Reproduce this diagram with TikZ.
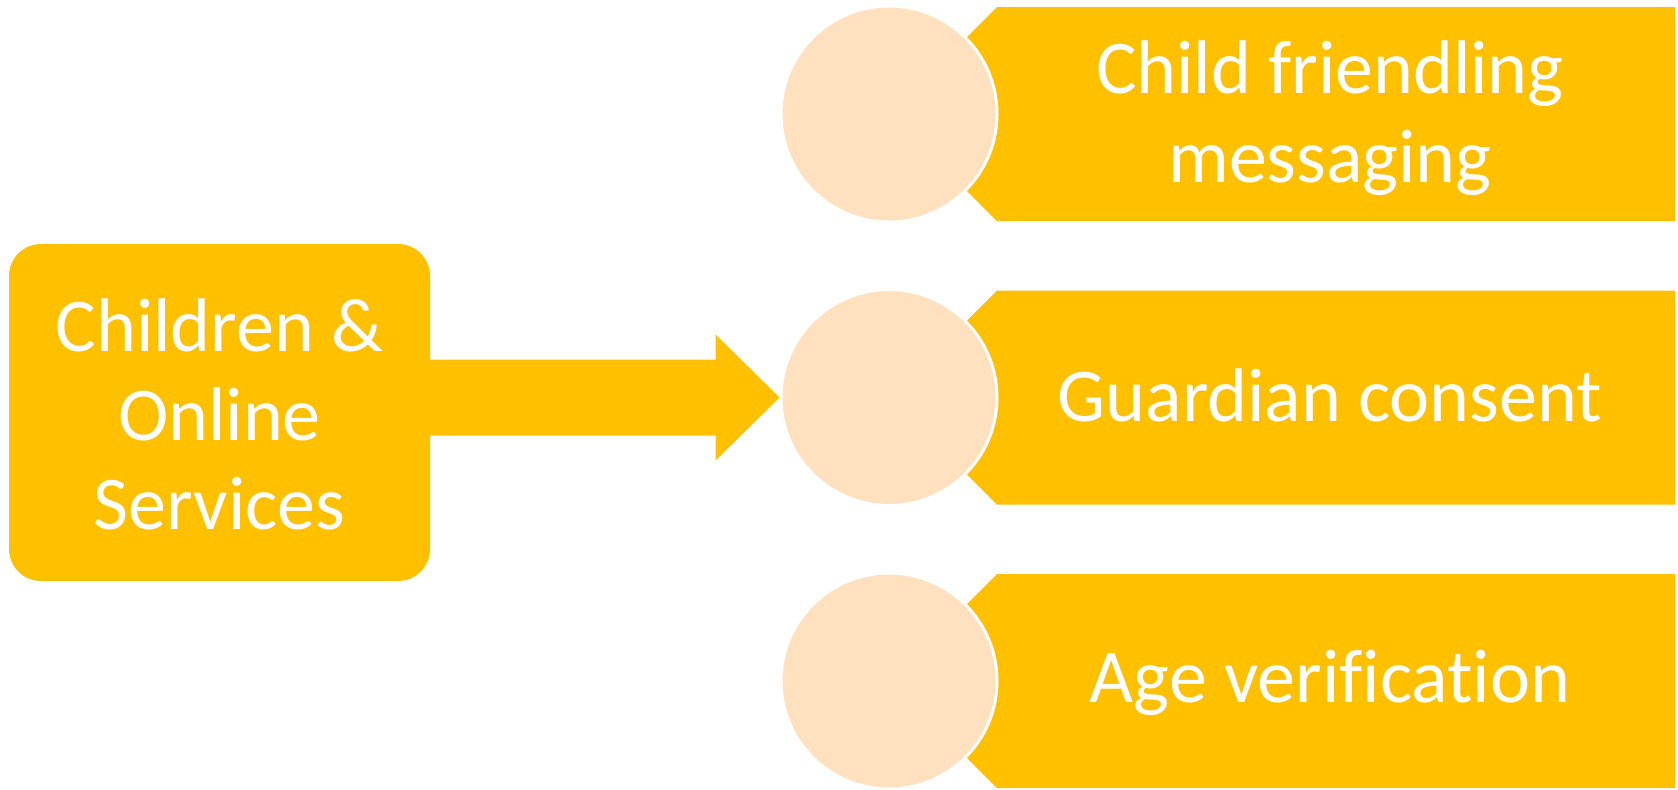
\documentclass[tikz,border=0pt]{standalone}
\usepackage{fontspec}
\setmainfont{Carlito}[Ligatures=NoCommon]
\usetikzlibrary{calc}
\definecolor{gold}{HTML}{FFC000}
\definecolor{peach}{HTML}{FFE0BF}
\begin{document}
\begin{tikzpicture}[x=0.5pt,y=-0.5pt,
  lbl/.style={text=white, font=\fontsize{38}{44.5}\selectfont, align=center, inner sep=0pt},
  disc/.style={circle, fill=peach, draw=white, line width=1.5pt, minimum size=108pt, inner sep=0pt},
  band/.style={fill=gold},
  mainbox/.style={fill=gold, rounded corners=16pt, minimum width=210.5pt, minimum height=168.5pt, inner sep=0pt}]
\useasboundingbox (0,0) rectangle (1678,789);
% bands behind circles
\foreach \cy in {114,397.5,681}{
  \fill[band] (997,\cy-107) -- (1675,\cy-107) -- (1675,\cy+107) -- (997,\cy+107) -- (890,\cy) -- cycle;
}
% circles
\node[disc] (c1) at (889,114) {};
\node[disc] (c2) at (889,397.5) {};
\node[disc] (c3) at (889,681) {};
% main box
\node[mainbox] (box) at (219.5,412.5) {};
% block arrow from box to middle circle
\coordinate (tip) at (c2.west);
\fill[band] ($(box.east|-tip)+(-5,-38)$) -- ($(tip)+(-64,-38)$) -- ($(tip)+(-64,-63)$) -- (tip)
  -- ($(tip)+(-64,63)$) -- ($(tip)+(-64,38)$) -- ($(box.east|-tip)+(-5,38)$) -- cycle;
% texts
\node[lbl] (boxtext) at ($(box.center)+(0,2)$) {Children \&\\Online\\Services};
\node[lbl] (t1) at (1330,118) {Child friendling\\messaging};
\node[lbl] (t2) at (1330,395) {Guardian consent};
\node[lbl] (t3) at (1330,683) {Age verification};
\end{tikzpicture}
\end{document}
